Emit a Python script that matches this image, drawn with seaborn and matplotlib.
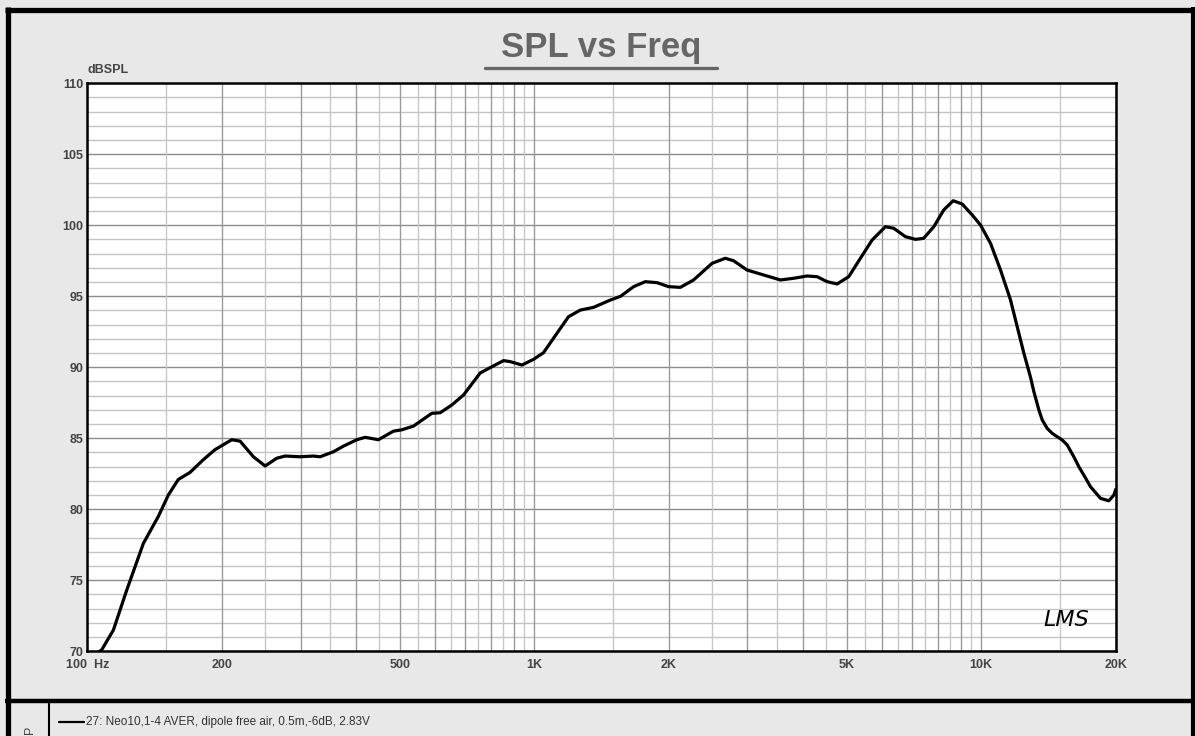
import numpy as np
import matplotlib
matplotlib.use("Agg")
import matplotlib.pyplot as plt
from matplotlib.lines import Line2D
import seaborn as sns

# SPL response (Hz, dB)
freq = [100, 107.7, 114.4, 122.5, 133.5, 144.2, 151.8, 159.8, 169.8, 181.9,
        193.1, 210.5, 219.7, 235.3, 250, 265.5, 277, 299.3, 320.6, 331.9,
        355.3, 374.2, 401, 418.5, 448, 484, 505.7, 536.8, 590, 616,
        654.3, 694.7, 756.9, 810.6, 853.7, 883.2, 938.7, 996.4, 1049, 1104,
        1193, 1268, 1357, 1481, 1560, 1669, 1772, 1883, 1998, 2123,
        2273, 2499, 2677, 2794, 2993, 3206, 3555, 3807, 4079, 4296,
        4523, 4762, 5054, 5369, 5701, 6106, 6374, 6768, 7128, 7437,
        7834, 8247, 8658, 9069, 9548, 9966, 10494, 11049, 11633, 12459,
        12895, 13116, 13462, 13698, 14050, 14421, 14795, 15183, 15579, 16119,
        16540, 17125, 17565, 18498, 19303, 19812, 20000]
spl = [69.4, 70.1, 71.5, 74.3, 77.6, 79.5, 81.0, 82.1, 82.6, 83.5,
       84.2, 84.9, 84.8, 83.7, 83.05, 83.6, 83.75, 83.7, 83.75, 83.7,
       84.05, 84.45, 84.9, 85.07, 84.9, 85.5, 85.6, 85.86, 86.76, 86.8,
       87.35, 88.05, 89.6, 90.1, 90.47, 90.4, 90.16, 90.56, 91.03, 92.04,
       93.56, 94.03, 94.22, 94.74, 95.0, 95.68, 96.03, 95.96, 95.68, 95.63,
       96.15, 97.32, 97.68, 97.5, 96.85, 96.57, 96.15, 96.27, 96.43, 96.38,
       96.03, 95.87, 96.38, 97.68, 98.96, 99.9, 99.79, 99.2, 99.01, 99.08,
       99.9, 101.08, 101.73, 101.5, 100.73, 100.02, 98.73, 96.85, 94.74, 91.0,
       89.3, 88.3, 87.0, 86.29, 85.7, 85.35, 85.11, 84.88, 84.53, 83.7,
       83.0, 82.2, 81.59, 80.77, 80.6, 81.0, 81.4]

xticks = [100, 200, 500, 1000, 2000, 5000, 10000, 20000]
xlabels = ["100  Hz", "200", "500", "1K", "2K", "5K", "10K", "20K"]
yticks = [70, 75, 80, 85, 90, 95, 100, 105, 110]

sns.set_style("white")
plt.rcParams['font.family'] = ['Liberation Sans', 'DejaVu Sans']

W, H = 1195, 736
fig = plt.figure(figsize=(W / 100, H / 100), dpi=100)
fig.patch.set_facecolor("#e8e8e8")


def fx(px):
    return px / W


def fy(py):
    return 1 - py / H


ax = fig.add_axes([fx(87.3), fy(651.3), fx(1115.7) - fx(87.3), fy(83.3) - fy(651.3)])
ax.set_facecolor("white")

# grid: 1 dB light, 5 dB darker; log grid at 1..9 and 1.5..9.5 per decade
for v in range(70, 111):
    ax.axhline(v, color="#8c8c8c" if v % 5 == 0 else "#c4c4c4", lw=1.0, zorder=0)
for dec in [100, 1000, 10000]:
    for s in np.arange(1, 10, 0.5):
        f = dec * s
        if f > 20000:
            continue
        ax.axvline(f, color="#9a9a9a" if s == int(s) else "#c8c8c8", lw=1.0, zorder=0)

sns.lineplot(x=freq, y=spl, ax=ax, color="black", lw=2.3, sort=False,
             estimator=None, zorder=3)

ax.set_xscale("log")
ax.set_xlim(100, 20000)
ax.set_ylim(70, 110)
ax.set_xticks(xticks)
ax.set_xticklabels(xlabels)
ax.minorticks_off()
ax.set_yticks(yticks)
ax.set_yticklabels([str(t) for t in yticks])
ax.tick_params(length=0, labelsize=9, colors="#444444")
ax.tick_params(axis="x", pad=5.5)
ax.tick_params(axis="y", pad=3)
for lab in ax.get_xticklabels() + ax.get_yticklabels():
    lab.set_fontweight("bold")
ax.set_xlabel("")
ax.set_ylabel("")
for sp in ax.spines.values():
    sp.set_visible(True)
    sp.set_color("black")
    sp.set_linewidth(1.8)

ax.text(0.0, 1.012, "dBSPL", transform=ax.transAxes, fontsize=9,
        fontweight="bold", color="#444444", ha="left", va="bottom")

# LMS signature
ax.text(0.952, 0.055, "LMS", transform=ax.transAxes, fontsize=16,
        fontstyle="italic", color="black", ha="center", va="center",
        family="DejaVu Sans", fontweight="light", zorder=4)

# title with underline
fig.text(0.5035, fy(57), "SPL vs Freq", ha="center", va="baseline",
         fontsize=25, fontweight="bold", color="#666666")
fig.add_artist(Line2D([fx(485), fx(717)], [fy(67.5), fy(67.5)], color="#666666", lw=2.4))

# outer frame and legend panel
frame_kw = dict(color="black", solid_capstyle="butt")
fig.add_artist(Line2D([fx(7.5), fx(7.5)], [fy(7), 0], lw=3.8, **frame_kw))
fig.add_artist(Line2D([fx(5), fx(1195)], [fy(9.5), fy(9.5)], lw=3.8, **frame_kw))
fig.add_artist(Line2D([fx(1193), fx(1193)], [fy(7), 0], lw=3.0, **frame_kw))
fig.add_artist(Line2D([fx(5), fx(1195)], [fy(701), fy(701)], lw=3.2, **frame_kw))
fig.add_artist(Line2D([fx(49), fx(49)], [fy(702), 0], lw=1.5, **frame_kw))

fig.text(fx(30), fy(730), "P", rotation=90, ha="center", va="center",
         fontsize=9, color="#444444")
fig.add_artist(Line2D([fx(59), fx(84)], [fy(722), fy(722)], color="black", lw=1.6))
fig.text(fx(86), fy(722), "27: Neo10,1-4 AVER, dipole free air, 0.5m,-6dB, 2.83V",
         ha="left", va="center", fontsize=8.5, color="#333333")

fig.savefig("out.png", dpi=100, facecolor=fig.get_facecolor())
